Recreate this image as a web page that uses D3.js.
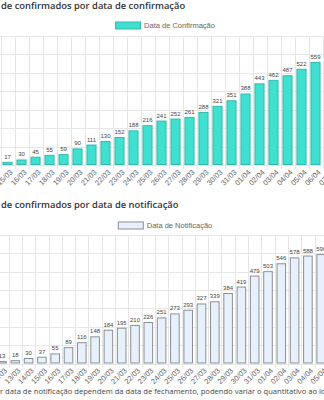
<!DOCTYPE html>
<html>
<head>
<meta charset="utf-8">
<script src="https://cdn.jsdelivr.net/npm/d3@7"></script>
<style>
  body { margin: 0; background: #fff; overflow: hidden; }
  svg { display: block; }
</style>
</head>
<body>
<svg id="chart" width="324" height="400"></svg>
<script>
// Cases by confirmation date
const confDates = ["15/03","16/03","17/03","18/03","19/03","20/03","21/03","22/03","23/03","24/03","25/03","26/03","27/03","28/03","29/03","30/03","31/03","01/04","02/04","03/04","04/04","05/04","06/04","07/04"];
const confValues = [17,30,45,55,59,90,111,130,152,188,216,241,252,261,288,321,351,388,443,462,487,522,559,null];

// Cases by notification date
const notifDates = ["12/03","13/03","14/03","15/03","16/03","17/03","18/03","19/03","20/03","21/03","22/03","23/03","24/03","25/03","26/03","27/03","28/03","29/03","30/03","31/03","01/04","02/04","03/04","04/04","05/04"];
const notifValues = [13,18,30,37,55,89,116,148,184,195,210,226,251,273,293,327,339,384,419,479,503,546,578,588,596];

const yTicks = [0,100,200,300,400,500,600,700];

const titles = ["de confirmados por data de confirmação", "de confirmados por data de notificação"];
const legendLabels = ["Data de Confirmação", "Data de Notificação"];
const footnote = "r data de notificação dependem da data de fechamento, podendo variar o quantitativo ao lo";

const svg = d3.select("#chart");
const W = 324;

function drawPanel(opt) {
  const g = svg.append("g");
  const n = opt.dates.length;
  const r0 = opt.c0 - opt.step / 2;
  const x = d3.scaleBand()
    .domain(opt.dates)
    .range([r0, r0 + opt.step * n])
    .paddingInner(0.28)
    .paddingOuter(0.14);
  const y = d3.scaleLinear().domain([0, 700]).range([opt.yBase, opt.yTop]);

  // title
  g.append("text")
    .attr("x", 1).attr("y", opt.titleY)
    .attr("dominant-baseline", "middle")
    .style("font-family", "'Open Sans', sans-serif")
    .style("font-weight", 600)
    .style("font-size", "9.4px")
    .style("fill", "#333")
    .text(opt.title);

  // legend
  const lg = g.append("g");
  const lt = lg.append("text")
    .attr("dominant-baseline", "middle")
    .style("font-family", "'Liberation Sans', Arial, sans-serif")
    .style("font-size", "7.5px")
    .style("fill", "#666")
    .text(opt.legend);
  const tw = lt.node().getComputedTextLength();
  const boxW = 25, gap = 4;
  const lx = 165 - (boxW + gap + tw) / 2;
  lg.append("rect")
    .attr("x", lx + 0.5).attr("y", opt.legendY - 3.5)
    .attr("width", boxW).attr("height", 7)
    .attr("fill", opt.fill).attr("stroke", opt.stroke).attr("stroke-width", 1);
  lt.attr("x", lx + boxW + gap).attr("y", opt.legendY + 0.5);

  // grid
  const grid = g.append("g").attr("stroke", "#e6e6e6").attr("stroke-width", 1);
  grid.selectAll("line.h").data(yTicks).join("line")
    .attr("class", "h")
    .attr("x1", 0).attr("x2", W)
    .attr("y1", d => Math.round(y(d)) + 0.5)
    .attr("y2", d => Math.round(y(d)) + 0.5);
  const bounds = d3.range(n + 1).map(i => r0 + i * x.step());
  grid.selectAll("line.v").data(bounds).join("line")
    .attr("class", "v")
    .attr("x1", d => Math.round(d) + 0.5).attr("x2", d => Math.round(d) + 0.5)
    .attr("y1", opt.yTop).attr("y2", opt.yBase + 4);

  // bars
  const data = opt.dates.map((d, i) => ({ date: d, value: opt.values[i] })).filter(d => d.value != null);
  g.append("g").selectAll("rect").data(data).join("rect")
    .attr("x", d => x(d.date) + 0.5)
    .attr("y", d => y(d.value) + 0.5)
    .attr("width", x.bandwidth() - 1)
    .attr("height", d => y(0) - y(d.value) - 1)
    .attr("fill", opt.fill)
    .attr("stroke", opt.stroke)
    .attr("stroke-width", 1);

  // value labels
  g.append("g").selectAll("text").data(data).join("text")
    .attr("x", d => x(d.date) + x.bandwidth() / 2)
    .attr("y", d => y(d.value) - 3)
    .attr("text-anchor", "middle")
    .style("font-family", "'Liberation Sans', Arial, sans-serif")
    .style("font-size", "6px")
    .style("fill", "#444")
    .text(d => d.value);

  // x axis labels
  const ax = g.append("g")
    .attr("transform", `translate(0,${opt.yBase})`)
    .call(d3.axisBottom(x).tickSize(0).tickPadding(0));
  ax.select(".domain").remove();
  ax.selectAll("text")
    .attr("x", 0).attr("y", 0).attr("dy", "0.32em")
    .attr("text-anchor", "end")
    .attr("transform", "translate(4,6) rotate(-45)")
    .style("font-family", "'Liberation Sans', Arial, sans-serif")
    .style("font-size", "7.5px")
    .style("fill", "#666");
}

drawPanel({
  dates: confDates, values: confValues,
  c0: 7.5, step: 14,
  yBase: 165, yTop: 36,
  fill: "#40E0D0", stroke: "#33b9ab",
  title: titles[0], titleY: 6.5,
  legend: legendLabels[0], legendY: 25.5
});

drawPanel({
  dates: notifDates, values: notifValues,
  c0: 2, step: 13.3,
  yBase: 363.5, yTop: 235,
  fill: "#e8f1fb", stroke: "#8a8f96",
  title: titles[1], titleY: 205,
  legend: legendLabels[1], legendY: 225.5
});

svg.append("text")
  .attr("x", 0).attr("y", 391.5)
  .attr("dominant-baseline", "middle")
  .style("font-family", "'Open Sans', sans-serif")
  .style("font-size", "7.6px")
  .style("fill", "#444")
  .text(footnote);
</script>
</body>
</html>
